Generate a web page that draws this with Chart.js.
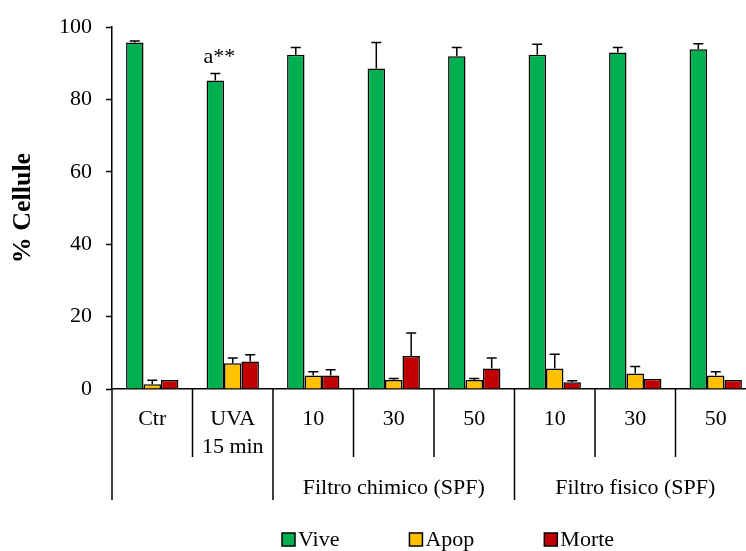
<!DOCTYPE html>
<html>
<head>
<meta charset="utf-8">
<script src="https://cdn.jsdelivr.net/npm/chart.js@4"></script>
<style>
  body { margin: 0; overflow: hidden; background: #fff; }
  #wrap { width: 760px; height: 551px; }
</style>
</head>
<body>
<div id="wrap"><canvas id="myBarChart"></canvas></div>
<script>
// categories and groups
const categories = ["Ctr", ["UVA", "15 min"], "10", "30", "50", "10", "30", "50"];
const groupLabels = ["", "Filtro chimico (SPF)", "Filtro fisico (SPF)"];
const groupSizes = [2, 3, 3];
const annotations = ["", "a**", "", "", "", "", "", ""];

// series values (%) and their errors
const vive = [95.8, 85.3, 92.4, 88.6, 92.0, 92.4, 93.0, 93.9];
const viveErr = [0.4, 1.9, 2.0, 7.2, 2.4, 2.9, 1.4, 1.5];
const apop = [1.3, 7.1, 3.7, 2.5, 2.5, 5.7, 4.3, 3.7];
const apopErr = [1.1, 1.5, 1.1, 0.4, 0.4, 3.9, 1.9, 1.1];
const morte = [2.5, 7.6, 3.7, 9.1, 5.7, 1.9, 2.8, 2.5];
const morteErr = [0, 1.9, 1.6, 6.4, 2.9, 0.4, 0, 0];

const yTicks = [0, 20, 40, 60, 80, 100];

const colors = {
    vive: "#00B050",
    apop: "#FFC000",
    morte: "#C00000",
};

const serif = "'Liberation Serif', 'Times New Roman', serif";

// error bars, separators, group labels, annotations and legend
const extrasPlugin = {
    id: "extras",
    afterDatasetsDraw(chart) {
        const ctx = chart.ctx;
        const yScale = chart.scales.y;
        const xScale = chart.scales.x;
        const area = chart.chartArea;

        ctx.save();
        ctx.strokeStyle = "#000";
        ctx.lineWidth = 1.5;
        chart.data.datasets.forEach((ds, di) => {
            const meta = chart.getDatasetMeta(di);
            ds.errors.forEach((err, i) => {
                if (!err) return;
                const x = meta.data[i].x;
                const y0 = yScale.getPixelForValue(ds.data[i]);
                const y1 = yScale.getPixelForValue(ds.data[i] + err);
                ctx.beginPath();
                ctx.moveTo(x, y0);
                ctx.lineTo(x, y1);
                ctx.moveTo(x - 5, y1);
                ctx.lineTo(x + 5, y1);
                ctx.stroke();
            });
        });

        // "a**" style marks above the Vive bars
        const viveMeta = chart.getDatasetMeta(0);
        ctx.fillStyle = "#000";
        ctx.font = "22px " + serif;
        ctx.textAlign = "center";
        ctx.textBaseline = "alphabetic";
        annotations.forEach((txt, i) => {
            if (!txt) return;
            const x = viveMeta.data[i].x + 4;
            const y = yScale.getPixelForValue(vive[i] + viveErr[i]) - 11;
            ctx.fillText(txt, x, y);
        });

        // category separators
        const n = categories.length;
        const catW = (area.right - area.left) / n;
        const groupStarts = [];
        let acc = 0;
        groupSizes.forEach(s => { groupStarts.push(acc); acc += s; });
        groupStarts.push(acc);
        for (let i = 0; i <= n; i++) {
            const x = xScale.getPixelForValue(Math.min(i, n - 1)) + (i === n ? catW / 2 : -catW / 2);
            const long = groupStarts.includes(i);
            ctx.beginPath();
            ctx.moveTo(x, area.bottom);
            ctx.lineTo(x, long ? area.bottom + 111 : area.bottom + 68);
            ctx.stroke();
        }

        // group labels
        ctx.textBaseline = "middle";
        groupLabels.forEach((label, g) => {
            if (!label) return;
            const xa = area.left + groupStarts[g] * catW;
            const xb = area.left + groupStarts[g + 1] * catW;
            ctx.fillText(label, (xa + xb) / 2, area.bottom + 99);
        });

        // legend
        let lx = 282;
        const ly = 540;
        ctx.textAlign = "left";
        chart.data.datasets.forEach(ds => {
            ctx.fillStyle = ds.backgroundColor;
            ctx.fillRect(lx, ly - 7, 13, 13);
            ctx.strokeRect(lx, ly - 7, 13, 13);
            ctx.fillStyle = "#000";
            ctx.fillText(ds.label, lx + 16, ly);
            lx += 16 + ctx.measureText(ds.label).width + 70;
        });
        ctx.restore();
    },
};

const ctx = document.getElementById("myBarChart").getContext("2d");
const myBarChart = new Chart(ctx, {
    type: "bar",
    data: {
        labels: categories,
        datasets: [
            { label: "Vive", data: vive, errors: viveErr, backgroundColor: colors.vive },
            { label: "Apop", data: apop, errors: apopErr, backgroundColor: colors.apop },
            { label: "Morte", data: morte, errors: morteErr, backgroundColor: colors.morte },
        ],
    },
    options: {
        responsive: true,
        maintainAspectRatio: false,
        animation: false,
        devicePixelRatio: 1,
        layout: { padding: { top: 24, right: 4, left: 0, bottom: 0 } },
        datasets: {
            bar: {
                borderColor: "#000",
                borderWidth: 1.5,
                categoryPercentage: 0.65,
                barPercentage: 1.0,
            },
        },
        plugins: {
            legend: { display: false },
            tooltip: { enabled: false },
        },
        scales: {
            x: {
                grid: { drawOnChartArea: false, drawTicks: false },
                border: { color: "#000", width: 1.5 },
                ticks: {
                    color: "#000",
                    font: { family: serif, size: 22, lineHeight: 1.27 },
                    padding: 16,
                    maxRotation: 0,
                    autoSkip: false,
                },
                afterFit(scale) { scale.height = 162; },
            },
            y: {
                min: 0,
                max: 100,
                afterBuildTicks(scale) { scale.ticks = yTicks.map(v => ({ value: v })); },
                grid: { drawOnChartArea: false, tickLength: 6, tickColor: "#000", tickWidth: 1.5 },
                border: { color: "#000", width: 1.5 },
                ticks: {
                    color: "#000",
                    font: { family: serif, size: 22 },
                    padding: 14,
                },
                title: {
                    display: true,
                    text: "% Cellule",
                    color: "#000",
                    font: { family: serif, size: 26, weight: "bold" },
                    padding: { top: 8, bottom: 0 },
                },
                afterFit(scale) { scale.width = 112; },
            },
        },
    },
    plugins: [extrasPlugin],
});
</script>
</body>
</html>
